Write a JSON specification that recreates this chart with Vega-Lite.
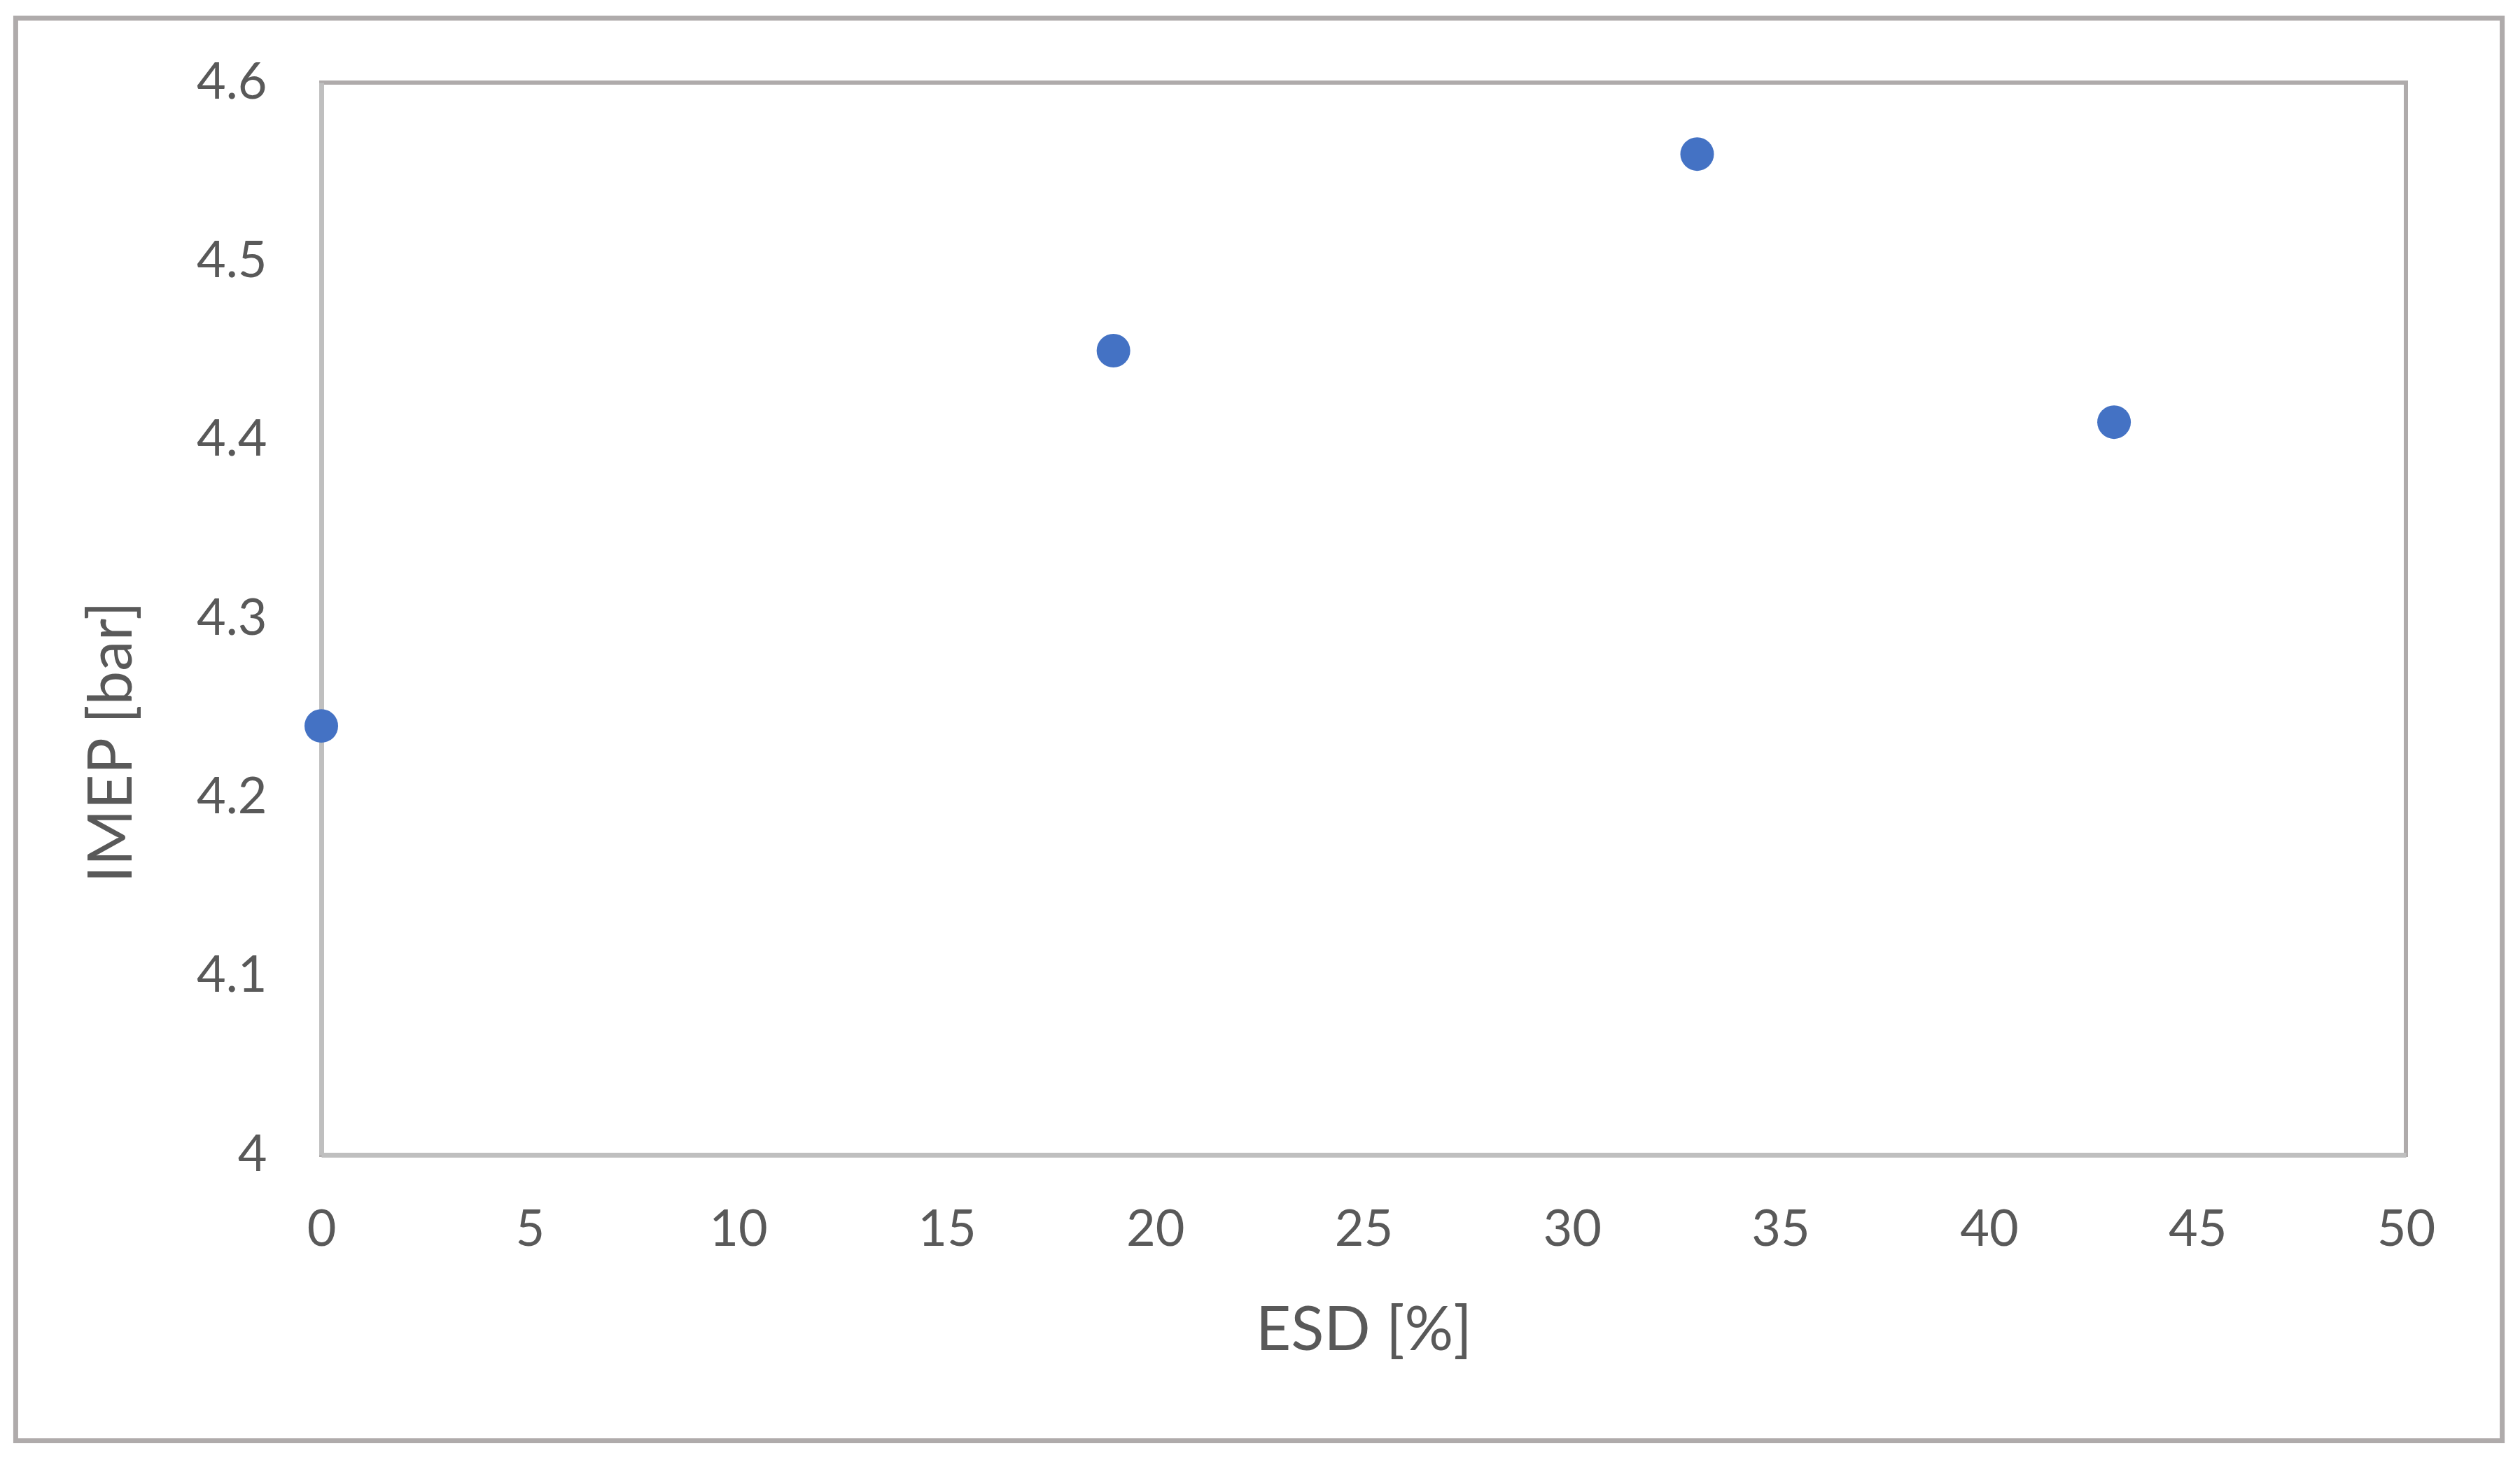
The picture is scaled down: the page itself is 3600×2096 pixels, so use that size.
{
  "$schema": "https://vega.github.io/schema/vega-lite/v6.json",
  "width": 2978,
  "height": 1532,
  "autosize": {"type": "none"},
  "padding": {"left": 459, "top": 118, "right": 163, "bottom": 446},
  "background": "white",
  "config": {
    "view": {"stroke": "#AFABAB", "strokeWidth": 6},
    "font": "Lato"
  },
  "layer": [
    {
      "data": {"values": [{"frame": "chart area"}]},
      "mark": {"type": "rect", "fill": null, "stroke": "#AFABAB", "strokeWidth": 7, "clip": false},
      "encoding": {
        "x": {"datum": -7.33, "type": "quantitative", "scale": {"domain": [0, 50], "nice": false, "zero": false}},
        "x2": {"datum": 52.31},
        "y": {"datum": 4.636, "type": "quantitative", "scale": {"domain": [4, 4.6], "nice": false, "zero": false}},
        "y2": {"datum": 3.84}
      }
    },
    {
      "data": {"values": [
        {"ESD": 0, "IMEP": 4.24},
        {"ESD": 19, "IMEP": 4.45},
        {"ESD": 33, "IMEP": 4.56},
        {"ESD": 43, "IMEP": 4.41}
      ]},
      "mark": {"type": "point", "filled": true, "shape": "circle", "size": 2304, "color": "#4472C4", "opacity": 1},
      "encoding": {
        "x": {
          "field": "ESD", "type": "quantitative",
          "scale": {"domain": [0, 50], "nice": false, "zero": false},
          "axis": {
            "values": [0, 5, 10, 15, 20, 25, 30, 35, 40, 45, 50],
            "format": "~g",
            "ticks": false, "grid": false,
            "domainColor": "#BFBFBF", "domainWidth": 7,
            "labelFont": "Lato", "labelFontSize": 72, "labelColor": "#595959",
            "labelPadding": 72, "labelFlush": false,
            "title": "ESD [%]", "titleFont": "Lato", "titleFontSize": 87,
            "titleFontWeight": "normal", "titleColor": "#595959",
            "titleY": 278, "titleBaseline": "alphabetic", "titleAlign": "center",
            "zindex": 0
          }
        },
        "y": {
          "field": "IMEP", "type": "quantitative",
          "scale": {"domain": [4, 4.6], "nice": false, "zero": false},
          "axis": {
            "values": [4, 4.1, 4.2, 4.3, 4.4, 4.5, 4.6],
            "format": "~g",
            "ticks": false, "grid": false,
            "domainColor": "#BFBFBF", "domainWidth": 7,
            "labelFont": "Lato", "labelFontSize": 72, "labelColor": "#595959",
            "labelPadding": 78, "labelFlush": false,
            "title": "IMEP [bar]", "titleFont": "Lato", "titleFontSize": 87,
            "titleFontWeight": "normal", "titleColor": "#595959",
            "titleAngle": 270, "titleX": -272, "titleY": 942,
            "titleBaseline": "alphabetic", "titleAlign": "center",
            "zindex": 0
          }
        }
      }
    }
  ]
}
